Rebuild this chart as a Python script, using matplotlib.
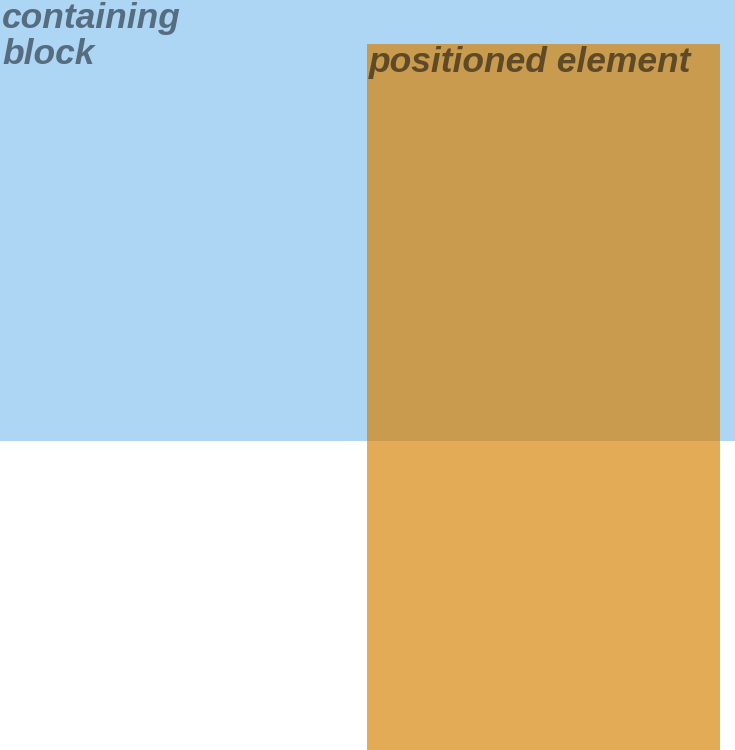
import matplotlib.pyplot as plt
from matplotlib.patches import Rectangle

# boxes in page pixels: left, top, width, height
box_names = ['containing block', 'positioned element']
box_left = [0, 367]
box_top = [0, 44]
box_width = [735, 353]
box_height = [441, 706]
box_colors = ['#ADD5F4', '#E3AB55']
overlap_color = '#C99B4E'
label_lines = [['containing', 'block'], ['positioned element']]
label_colors = ['#566D80', '#5F4A28']

W, H = 735, 750
fig = plt.figure(figsize=(W / 100, H / 100), dpi=100)
ax = fig.add_axes([0, 0, 1, 1])
ax.set_xlim(0, W)
ax.set_ylim(H, 0)
ax.axis('off')

for i in range(len(box_names)):
    ax.add_patch(Rectangle((box_left[i], box_top[i]), box_width[i], box_height[i],
                           facecolor=box_colors[i], edgecolor='none'))

# overlap region of the two boxes
ox0 = max(box_left[0], box_left[1])
ox1 = min(box_left[0] + box_width[0], box_left[1] + box_width[1])
oy0 = max(box_top[0], box_top[1])
oy1 = min(box_top[0] + box_height[0], box_top[1] + box_height[1])
ax.add_patch(Rectangle((ox0, oy0), ox1 - ox0, oy1 - oy0,
                       facecolor=overlap_color, edgecolor='none'))

# labels, one baseline per line (first baseline ~28px under box top, 36px leading)
for i in range(len(box_names)):
    for j, line in enumerate(label_lines[i]):
        ax.text(box_left[i] + 2, box_top[i] + 28 + 36 * j, line, color=label_colors[i],
                fontsize=25.5, fontweight='bold', fontstyle='italic',
                family='Liberation Sans', va='baseline', ha='left')

fig.savefig('out.png', dpi=100)
